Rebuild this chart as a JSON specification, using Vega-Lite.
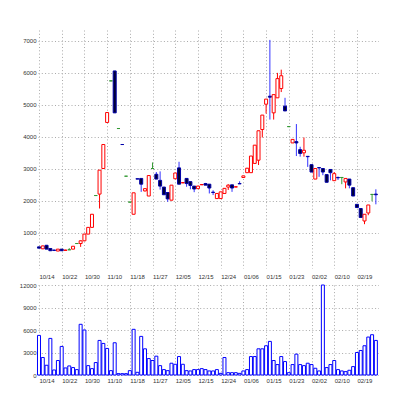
{
  "$schema": "https://vega.github.io/schema/vega-lite/v6.json",
  "padding": {"left": 19, "top": 30, "right": 0, "bottom": 0},
  "background": "white",
  "config": {
    "view": {"stroke": null},
    "axis": {"labelFont": "Liberation Sans", "labelFontSize": 6, "labelColor": "#333", "domain": false, "ticks": false, "gridColor": "#aaa", "gridDash": [1, 2.3], "gridWidth": 1, "title": null, "labelOverlap": false, "labelFlush": false, "labelSeparation": 0},
    "concat": {"spacing": 3}
  },
  "data": {"values": [
    {"d":"10/14","o":560,"h":570,"l":520,"c":520,"t":"d","v":5280},
    {"d":"10/15","o":500,"h":600,"l":490,"c":590,"t":"u","v":2330},
    {"d":"10/16","o":610,"h":620,"l":490,"c":490,"t":"d","v":1300},
    {"d":"10/17","o":510,"h":510,"l":430,"c":440,"t":"d","v":4880},
    {"d":"10/20","o":460,"h":470,"l":430,"c":450,"t":"d","v":670},
    {"d":"10/21","o":430,"h":490,"l":430,"c":490,"t":"u","v":1930},
    {"d":"10/22","o":490,"h":490,"l":430,"c":440,"t":"d","v":3810},
    {"d":"10/23","o":450,"h":470,"l":450,"c":460,"t":"u","v":940},
    {"d":"10/24","o":470,"h":520,"l":470,"c":470,"t":"f","v":1210},
    {"d":"10/27","o":490,"h":580,"l":490,"c":580,"t":"u","v":990},
    {"d":"10/28","o":665,"h":665,"l":665,"c":665,"t":"f","v":720},
    {"d":"10/29","o":665,"h":760,"l":560,"c":750,"t":"u","v":6760},
    {"d":"10/30","o":750,"h":960,"l":740,"c":960,"t":"u","v":6000},
    {"d":"10/31","o":960,"h":1170,"l":960,"c":1170,"t":"u","v":1250},
    {"d":"11/04","o":1170,"h":1580,"l":1170,"c":1580,"t":"u","v":850},
    {"d":"11/05","o":2165,"h":2165,"l":2165,"c":2165,"t":"f","v":1660},
    {"d":"11/06","o":2210,"h":2960,"l":1760,"c":2960,"t":"u","v":4610},
    {"d":"11/07","o":3010,"h":3760,"l":3010,"c":3760,"t":"u","v":4210},
    {"d":"11/10","o":4450,"h":4760,"l":4450,"c":4760,"t":"u","v":3540},
    {"d":"11/11","o":5750,"h":5750,"l":5750,"c":5750,"t":"f","v":580},
    {"d":"11/12","o":6060,"h":6060,"l":4750,"c":4750,"t":"d","v":4300},
    {"d":"11/13","o":4260,"h":4260,"l":4260,"c":4260,"t":"f","v":180},
    {"d":"11/14","o":3760,"h":3760,"l":3760,"c":3760,"t":"d","v":180},
    {"d":"11/17","o":2770,"h":2770,"l":2770,"c":2770,"t":"f","v":180},
    {"d":"11/18","o":1960,"h":1960,"l":1960,"c":1960,"t":"f","v":580},
    {"d":"11/19","o":1580,"h":2250,"l":1580,"c":2250,"t":"u","v":6090},
    {"d":"11/20","o":2690,"h":2690,"l":2680,"c":2680,"t":"d","v":360},
    {"d":"11/21","o":2700,"h":2700,"l":2280,"c":2520,"t":"d","v":5150},
    {"d":"11/25","o":2310,"h":2400,"l":2290,"c":2380,"t":"u","v":3490},
    {"d":"11/26","o":2150,"h":2790,"l":2150,"c":2790,"t":"u","v":2190},
    {"d":"11/27","o":3010,"h":3200,"l":3000,"c":3010,"t":"f","v":1930},
    {"d":"11/28","o":2830,"h":2900,"l":2680,"c":2680,"t":"d","v":2510},
    {"d":"12/01","o":2640,"h":2920,"l":2350,"c":2460,"t":"d","v":1250},
    {"d":"12/02","o":2430,"h":2430,"l":2190,"c":2190,"t":"d","v":720},
    {"d":"12/03","o":2260,"h":2260,"l":1970,"c":2060,"t":"d","v":580},
    {"d":"12/04","o":2020,"h":2490,"l":2020,"c":2490,"t":"u","v":1570},
    {"d":"12/05","o":2690,"h":2870,"l":2690,"c":2870,"t":"u","v":1430},
    {"d":"12/08","o":3030,"h":3220,"l":2520,"c":2520,"t":"d","v":2460},
    {"d":"12/09","o":2560,"h":2580,"l":2560,"c":2570,"t":"u","v":1430},
    {"d":"12/10","o":2700,"h":2700,"l":2440,"c":2540,"t":"d","v":580},
    {"d":"12/11","o":2600,"h":2600,"l":2360,"c":2480,"t":"d","v":540},
    {"d":"12/12","o":2460,"h":2460,"l":2270,"c":2370,"t":"d","v":720},
    {"d":"12/15","o":2380,"h":2470,"l":2380,"c":2460,"t":"u","v":720},
    {"d":"12/16","o":2500,"h":2520,"l":2500,"c":2510,"t":"u","v":850},
    {"d":"12/17","o":2540,"h":2560,"l":2490,"c":2490,"t":"d","v":720},
    {"d":"12/18","o":2520,"h":2520,"l":2230,"c":2400,"t":"d","v":540},
    {"d":"12/19","o":2270,"h":2330,"l":2180,"c":2260,"t":"d","v":540},
    {"d":"12/22","o":2070,"h":2230,"l":2070,"c":2230,"t":"u","v":720},
    {"d":"12/24","o":2070,"h":2280,"l":2070,"c":2280,"t":"u","v":220},
    {"d":"12/25","o":2230,"h":2390,"l":2230,"c":2390,"t":"u","v":2330},
    {"d":"12/26","o":2430,"h":2520,"l":2340,"c":2490,"t":"u","v":310},
    {"d":"12/29","o":2500,"h":2500,"l":2280,"c":2400,"t":"d","v":310},
    {"d":"12/30","o":2430,"h":2450,"l":2430,"c":2440,"t":"u","v":310},
    {"d":"01/05","o":2540,"h":2610,"l":2530,"c":2530,"t":"d","v":220},
    {"d":"01/06","o":2730,"h":2780,"l":2730,"c":2780,"t":"u","v":540},
    {"d":"01/07","o":2880,"h":3020,"l":2880,"c":3020,"t":"u","v":720},
    {"d":"01/08","o":2880,"h":3400,"l":2880,"c":3400,"t":"u","v":2460},
    {"d":"01/09","o":3170,"h":3740,"l":3170,"c":3740,"t":"u","v":2460},
    {"d":"01/13","o":3270,"h":4190,"l":3120,"c":4190,"t":"u","v":3490},
    {"d":"01/14","o":4230,"h":4680,"l":3980,"c":4680,"t":"u","v":3490},
    {"d":"01/15","o":5020,"h":5180,"l":4730,"c":5180,"t":"u","v":3900},
    {"d":"01/16","o":5270,"h":7030,"l":4540,"c":5240,"t":"d","v":4480},
    {"d":"01/19","o":4750,"h":5320,"l":4540,"c":5320,"t":"u","v":1930},
    {"d":"01/20","o":5220,"h":6000,"l":5220,"c":5820,"t":"u","v":1390},
    {"d":"01/21","o":5510,"h":6100,"l":5400,"c":5910,"t":"u","v":2460},
    {"d":"01/22","o":4960,"h":5220,"l":4810,"c":4810,"t":"d","v":1790},
    {"d":"01/23","o":4320,"h":4320,"l":4320,"c":4320,"t":"f","v":310},
    {"d":"01/26","o":3810,"h":3920,"l":3810,"c":3920,"t":"u","v":1390},
    {"d":"01/27","o":3850,"h":4400,"l":3400,"c":3810,"t":"d","v":2780},
    {"d":"01/28","o":3600,"h":3690,"l":3380,"c":3480,"t":"d","v":1390},
    {"d":"01/29","o":3500,"h":3980,"l":3380,"c":3580,"t":"u","v":1250},
    {"d":"01/30","o":3390,"h":3390,"l":3060,"c":3380,"t":"d","v":1570},
    {"d":"02/02","o":3130,"h":3130,"l":2900,"c":2900,"t":"d","v":1390},
    {"d":"02/03","o":2680,"h":3010,"l":2680,"c":3010,"t":"u","v":900},
    {"d":"02/04","o":3040,"h":3040,"l":2750,"c":3030,"t":"d","v":540},
    {"d":"02/05","o":3010,"h":3010,"l":2800,"c":2900,"t":"d","v":12000},
    {"d":"02/06","o":2820,"h":2820,"l":2580,"c":2580,"t":"d","v":990},
    {"d":"02/09","o":2980,"h":2980,"l":2640,"c":2880,"t":"d","v":1390},
    {"d":"02/10","o":2630,"h":2900,"l":2630,"c":2850,"t":"u","v":1930},
    {"d":"02/12","o":2730,"h":2760,"l":2650,"c":2720,"t":"d","v":720},
    {"d":"02/13","o":2730,"h":2730,"l":2520,"c":2730,"t":"f","v":540},
    {"d":"02/16","o":2590,"h":2700,"l":2390,"c":2700,"t":"u","v":450},
    {"d":"02/17","o":2680,"h":2680,"l":2390,"c":2490,"t":"d","v":630},
    {"d":"02/18","o":2410,"h":2410,"l":2150,"c":2150,"t":"d","v":1120},
    {"d":"02/19","o":1890,"h":1890,"l":1790,"c":1790,"t":"d","v":3000},
    {"d":"02/20","o":1760,"h":1760,"l":1480,"c":1480,"t":"d","v":3270},
    {"d":"02/23","o":1370,"h":1580,"l":1270,"c":1580,"t":"u","v":3900},
    {"d":"02/24","o":1620,"h":1870,"l":1550,"c":1870,"t":"u","v":5060},
    {"d":"02/25","o":2200,"h":2200,"l":1990,"c":2200,"t":"f","v":5370},
    {"d":"02/26","o":2210,"h":2360,"l":1890,"c":2190,"t":"d","v":4610}
  ]},
  "vconcat": [
    {
      "width": 341,
      "height": 238,
      "encoding": {
        "x": {"field": "d", "type": "ordinal", "sort": null,
              "scale": {"type": "point", "padding": 0.545, "align": 0.24},
              "axis": {"values": ["10/14","10/22","10/30","11/10","11/18","11/27","12/05","12/15","12/24","01/06","01/15","01/23","02/02","02/10","02/19"], "labelAngle": 0, "labelAlign": "left", "labelOverlap": false, "grid": true, "labelPadding": 5}}
      },
      "layer": [
        {
          "mark": {"type": "rule", "strokeWidth": 1},
          "encoding": {
            "y": {"field": "l", "type": "quantitative", "scale": {"domain": [-100, 7340], "nice": false, "zero": false},
                  "axis": {"values": [1000,2000,3000,4000,5000,6000,7000], "format": "d", "labelOverlap": false, "grid": true, "labelPadding": 2}},
            "y2": {"field": "h"},
            "color": {"field": "t", "type": "nominal", "legend": null,
                      "scale": {"domain": ["u","d","f"], "range": ["#ff0000","#3333ff","#339933"]}}
          }
        },
        {
          "mark": {"type": "bar", "size": 3, "strokeWidth": 1},
          "encoding": {
            "y": {"field": "o", "type": "quantitative",
                  "axis": {"values": [1000,2000,3000,4000,5000,6000,7000], "format": "d", "labelOverlap": false, "grid": true, "labelPadding": 2}},
            "y2": {"field": "c"},
            "fill": {"field": "t", "type": "nominal", "legend": null,
                     "scale": {"domain": ["u","d","f"], "range": ["#ffffff","#000033","#339933"]}},
            "stroke": {"field": "t", "type": "nominal", "legend": null,
                       "scale": {"domain": ["u","d","f"], "range": ["#ff0000","#0000aa","#339933"]}}
          }
        }
      ]
    },
    {
      "width": 341,
      "height": 90,
      "mark": {"type": "bar", "size": 3, "strokeWidth": 1, "fill": "#ffffff", "stroke": "#0000ff"},
      "encoding": {
        "x": {"field": "d", "type": "ordinal", "sort": null,
              "scale": {"type": "point", "padding": 0.545, "align": 0.24},
              "axis": {"values": ["10/14","10/22","10/30","11/10","11/18","11/27","12/05","12/15","12/24","01/06","01/15","01/23","02/02","02/10","02/19"], "labelAngle": 0, "labelAlign": "left", "labelOverlap": false, "grid": true, "labelPadding": 2}},
        "y": {"field": "v", "type": "quantitative", "scale": {"domain": [0, 12000], "nice": false},
              "axis": {"values": [0,3000,6000,9000,12000], "format": "d", "labelOverlap": false, "grid": true, "labelPadding": 2}}
      }
    }
  ]
}
